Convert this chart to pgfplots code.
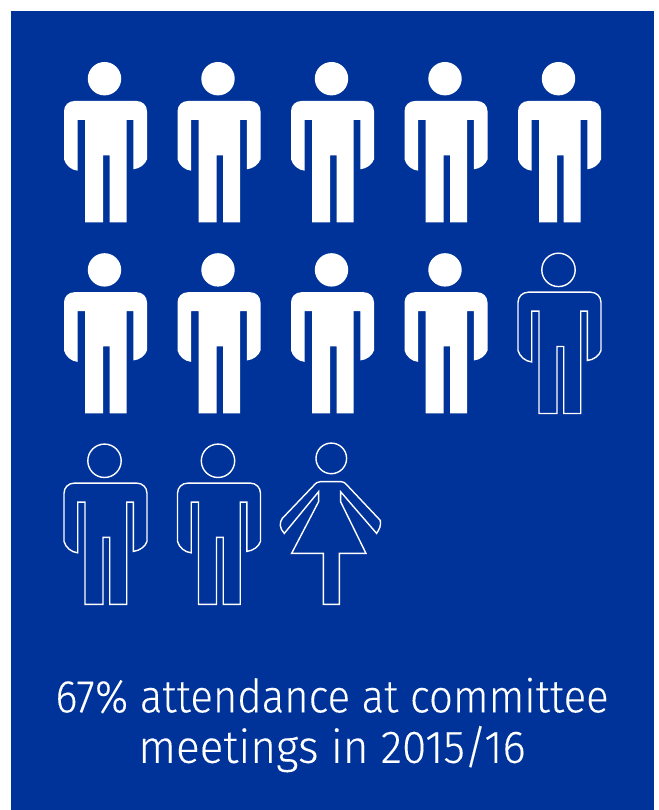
\documentclass[border=0pt]{standalone}
\usepackage{pgfplots}
\pgfplotsset{compat=1.18}
\usepackage{fontspec}
\setmainfont{Fira Sans}[UprightFont=* Light, FakeStretch=0.91, FakeBold=0.12]
\newfontfamily\widerline{Fira Sans}[UprightFont=* Light, FakeStretch=0.96, FakeBold=0.12]
\definecolor{panelblue}{HTML}{003399}

% Short forms for the pictogram outlines (units are points, origin between the feet)
\newcommand{\Mv}[2]{\pgfpathmoveto{\pgfqpoint{#1pt}{#2pt}}}
\newcommand{\Ln}[2]{\pgfpathlineto{\pgfqpoint{#1pt}{#2pt}}}
\newcommand{\Cv}[6]{\pgfpathcurveto{\pgfqpoint{#1pt}{#2pt}}{\pgfqpoint{#3pt}{#4pt}}{\pgfqpoint{#5pt}{#6pt}}}

\newcommand{\manpath}{%
  \Mv{-20.5}{0}\Ln{-2.5}{0}\Ln{-2.5}{67}\Ln{4.2}{67}\Ln{4.2}{0}\Ln{21.2}{0}
  \Ln{21.2}{102.3}\Ln{27.8}{102.3}\Ln{27.8}{53}
  \Cv{34}{53.5}{40}{58}{41.5}{63}
  \Ln{41.5}{111}\Cv{41.5}{117}{37}{121.3}{31}{121.3}
  \Ln{-31}{121.3}\Cv{-37}{121.3}{-41.5}{117}{-41.5}{111}
  \Ln{-41.5}{63}\Cv{-40}{57}{-34}{52}{-27.8}{51.6}
  \Ln{-27.8}{102.3}\Ln{-20.5}{102.3}\pgfpathclose
  \pgfpathcircle{\pgfqpoint{-1pt}{143.6pt}}{16.7pt}}

\newcommand{\womanpath}{%
  \Mv{-8}{0}\Ln{8}{0}\Ln{8}{51}\Ln{34.7}{51}\Ln{9.3}{102.7}\Ln{9.3}{112.7}
  \Ln{45.3}{71}\Cv{48}{75}{50}{79}{49}{84}
  \Ln{15}{120}\Cv{14}{121.5}{12}{122.7}{10}{122.7}
  \Ln{-11}{122.7}\Cv{-14}{122.7}{-16}{121}{-17}{119.5}
  \Ln{-49}{86}\Cv{-52}{82}{-52}{76}{-47}{71}
  \Ln{-12.7}{112.7}\Ln{-12.7}{102.7}\Ln{-39.7}{51}\Ln{-8}{51}\pgfpathclose
  \pgfpathcircle{\pgfqpoint{0pt}{146pt}}{15.3pt}}

\pgfdeclareplotmark{man solid}{\manpath\pgfusepathqfill}
\pgfdeclareplotmark{man open}{\manpath\pgfusepath{stroke}}
\pgfdeclareplotmark{woman open}{\womanpath\pgfusepath{stroke}}

\begin{document}
\begin{tikzpicture}
\begin{axis}[
  scale only axis, width=658pt, height=810pt,
  xmin=0, xmax=658, ymin=0, ymax=810,
  hide axis, clip=false,
]
% Page and panel
\addplot[fill=white, draw=none] coordinates {(0,0)(658,0)(658,810)(0,810)} -- cycle;
\addplot[fill=panelblue, draw=none] coordinates {(11,0)(654,0)(654,799)(11,799)} -- cycle;

% Members who attended
\addplot[only marks, mark=man solid, mark options={fill=white, draw=none}] coordinates {
  (105.5,587.7)(219,587.7)(332.5,587.7)(446,587.7)(559.5,587.7)
  (105.5,396.5)(219,396.5)(332.5,396.5)(446,396.5)
};
% Members who did not attend
\addplot[only marks, mark=man open, mark options={draw=white, line width=1.4pt}] coordinates {
  (559.5,396.5)(105.5,205.6)(219,205.6)
};
\addplot[only marks, mark=woman open, mark options={draw=white, line width=1.4pt}] coordinates {
  (331.3,205.6)
};

\node[text=white, align=center, font=\fontsize{46}{50.5}\selectfont, anchor=center]
  at (axis cs:332,85) {67\% attendance at committee\\{\widerline meetings in 2015/16}};
\end{axis}
\end{tikzpicture}
\end{document}
